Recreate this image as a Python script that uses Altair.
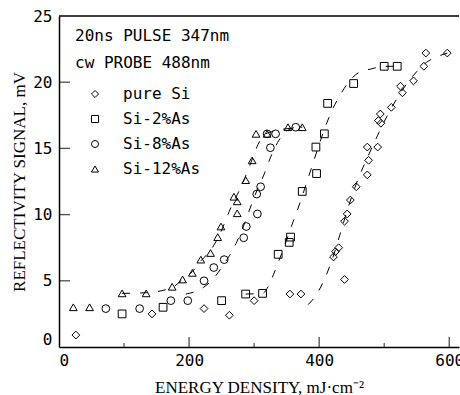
import altair as alt
import pandas as pd

series_names = ["pure Si", "Si-2%As", "Si-8%As", "Si-12%As"]
shapes = ["diamond", "square", "circle", "triangle-up"]

# measured points
pure_x = [26, 143, 223, 262, 300, 355, 372, 422, 425, 430, 439, 439, 443, 448, 457, 474, 476, 474, 490, 491,
          494, 495, 511, 525, 528, 545, 561, 564, 597]
pure_y = [0.9, 2.5, 2.9, 2.4, 3.5, 4.0, 4.0, 6.8, 7.2, 7.5, 5.1, 9.5, 10.05, 11.1, 12.1, 13.0, 14.1, 15.1, 15.1, 17.1,
          17.6, 16.9, 18.1, 19.7, 19.2, 20.1, 21.2, 22.2, 22.2]

as2_x = [97, 160, 250, 287, 313, 337, 354, 356, 374, 396, 395, 408, 413, 453, 500, 520]
as2_y = [2.5, 3.0, 3.5, 4.0, 4.05, 7.0, 7.9, 8.3, 11.75, 13.1, 15.1, 16.1, 18.4, 19.9, 21.2, 21.2]

as8_x = [72, 124, 172, 198, 223, 238, 254, 284, 288, 305, 304, 310, 325, 320, 333, 364]
as8_y = [2.9, 2.9, 3.5, 3.5, 5.0, 6.0, 6.6, 8.25, 9.1, 10.05, 11.55, 12.1, 15.05, 16.1, 16.1, 16.6]

as12_x = [22, 47, 97, 134, 174, 190, 205, 218, 233, 244, 249, 269, 274, 274, 287, 297, 303, 320, 352, 374]
as12_y = [3.0, 3.0, 4.05, 4.05, 4.55, 5.1, 5.6, 6.6, 7.1, 8.3, 9.1, 11.35, 11.0, 10.1, 12.6, 14.1, 16.1, 16.1, 16.6, 16.6]

# dashed guide curves
cpure_x = [383, 395, 408, 420, 432, 445, 460, 475, 490, 505, 520, 535, 550, 565, 580, 597]
cpure_y = [3.2, 3.9, 5.1, 6.6, 8.5, 10.6, 12.7, 14.4, 16.0, 17.5, 18.8, 19.9, 20.8, 21.5, 21.9, 22.2]

c2_x = [287, 313, 322, 330, 338, 348, 358, 367, 378, 390, 400, 410, 420, 432, 445, 460, 480, 500, 520]
c2_y = [4.0, 4.05, 4.6, 5.5, 6.5, 7.8, 9.2, 10.4, 12.0, 13.8, 15.3, 16.7, 17.9, 19.0, 20.0, 20.7, 21.0, 21.2, 21.2]

c8_x = [195, 210, 222, 238, 250, 262, 272, 285, 297, 305, 315, 325, 338, 350, 364]
c8_y = [4.0, 4.2, 4.5, 5.2, 6.0, 6.9, 7.8, 9.3, 10.9, 11.9, 13.0, 14.3, 15.6, 16.3, 16.6]

c12_x = [97, 134, 174, 190, 205, 218, 233, 245, 255, 264, 274, 282, 290, 298, 306, 315, 330, 352, 374]
c12_y = [4.05, 4.1, 4.5, 5.1, 5.7, 6.5, 7.3, 8.3, 9.4, 10.5, 11.5, 12.3, 13.3, 14.3, 15.3, 16.0, 16.3, 16.5, 16.6]

x_label_values = [0, 200, 400, 600]
y_label_values = [0, 5, 10, 15, 20, 25]
x_major_ticks = [200, 400, 600]
x_minor_ticks = [100, 300, 500]
y_ticks = [5, 10, 15, 20]

pts = pd.DataFrame(
    [{"series": n, "energy": x, "signal": y}
     for n, xs, ys in zip(series_names, [pure_x, as2_x, as8_x, as12_x], [pure_y, as2_y, as8_y, as12_y])
     for x, y in zip(xs, ys)]
)
curves = pd.DataFrame(
    [{"curve": n, "energy": x, "signal": y}
     for n, xs, ys in zip(series_names, [cpure_x, c2_x, c8_x, c12_x], [cpure_y, c2_y, c8_y, c12_y])
     for x, y in zip(xs, ys)]
)

xscale = alt.Scale(domain=[0, 615], nice=False, zero=False)
yscale = alt.Scale(domain=[0, 25], nice=False, zero=False)

LABEL_FONT = "DejaVu Sans Mono"
TITLE_FONT = "Liberation Serif"

x_axis = alt.Axis(
    values=x_label_values, title="ENERGY DENSITY, mJ·cm⁻²", ticks=False, grid=False,
    domainColor="black", domainWidth=1.5, labelFont=LABEL_FONT, labelFontSize=16, labelFontWeight="normal",
    labelColor="black", labelPadding=5, labelAngle=0,
    titleFont=TITLE_FONT, titleFontSize=17, titleFontWeight="normal", titleColor="black", titlePadding=11)
y_axis = alt.Axis(
    values=y_label_values, title="REFLECTIVITY SIGNAL, mV", ticks=False, grid=False,
    domainColor="black", domainWidth=1.5, labelFont=LABEL_FONT, labelFontSize=16, labelFontWeight="normal",
    labelColor="black", labelPadding=7, labelOffset={"expr": "datum.value == 0 ? -8 : 0"},
    titleFont=TITLE_FONT, titleFontSize=17, titleFontWeight="normal", titleColor="black", titlePadding=4)

points = alt.Chart(pts).mark_point(filled=False, color="black", strokeWidth=1, size=60, opacity=1).encode(
    x=alt.X("energy:Q", scale=xscale, axis=x_axis),
    y=alt.Y("signal:Q", scale=yscale, axis=y_axis),
    shape=alt.Shape("series:N", scale=alt.Scale(domain=series_names, range=shapes), legend=alt.Legend(
        title=["20ns PULSE 347nm", "cw PROBE 488nm"], orient="none", legendX=16, legendY=12,
        titleFont=LABEL_FONT, titleFontSize=16, titleFontWeight="normal", titleColor="black",
        titleLineHeight=27, titlePadding=15, titleBaseline="top",
        labelFont=LABEL_FONT, labelFontSize=16, labelFontWeight="normal", labelColor="black",
        labelOffset=20, symbolOffset=12, symbolSize=50, symbolStrokeColor="black",
        symbolStrokeWidth=1, rowPadding=9, padding=0)),
)

lines = alt.Chart(curves).mark_line(color="black", strokeWidth=1, strokeDash=[8, 10], interpolate="monotone").encode(
    x=alt.X("energy:Q", scale=xscale, axis=x_axis),
    y=alt.Y("signal:Q", scale=yscale, axis=y_axis),
    detail="curve:N",
)

xmaj = alt.Chart(pd.DataFrame({"energy": x_major_ticks})).mark_tick(
    orient="vertical", size=20, thickness=1.3, color="black", clip=True).encode(
    x=alt.X("energy:Q", scale=xscale, axis=x_axis), y=alt.YDatum(0, scale=yscale, axis=y_axis))
xmin = alt.Chart(pd.DataFrame({"energy": x_minor_ticks})).mark_tick(
    orient="vertical", size=8, thickness=1.2, color="black", clip=True).encode(
    x=alt.X("energy:Q", scale=xscale, axis=x_axis), y=alt.YDatum(0, scale=yscale, axis=y_axis))
ytk = alt.Chart(pd.DataFrame({"signal": y_ticks})).mark_tick(
    orient="horizontal", size=22, thickness=1.3, color="black", clip=True).encode(
    y=alt.Y("signal:Q", scale=yscale, axis=y_axis), x=alt.XDatum(0, scale=xscale, axis=x_axis))
top = alt.Chart(pd.DataFrame({"signal": [25]})).mark_rule(color="black", strokeWidth=1.5).encode(
    y=alt.Y("signal:Q", scale=yscale, axis=y_axis))

chart = alt.layer(lines, xmaj, xmin, ytk, top, points).properties(
    width=400, height=331, autosize=alt.AutoSizeParams(type="none"),
    padding={"left": 59, "top": 16, "right": 1, "bottom": 48},
    background="white",
).configure_view(stroke=None)

chart.save("out.html", embed_options={"renderer": "svg", "actions": False})
